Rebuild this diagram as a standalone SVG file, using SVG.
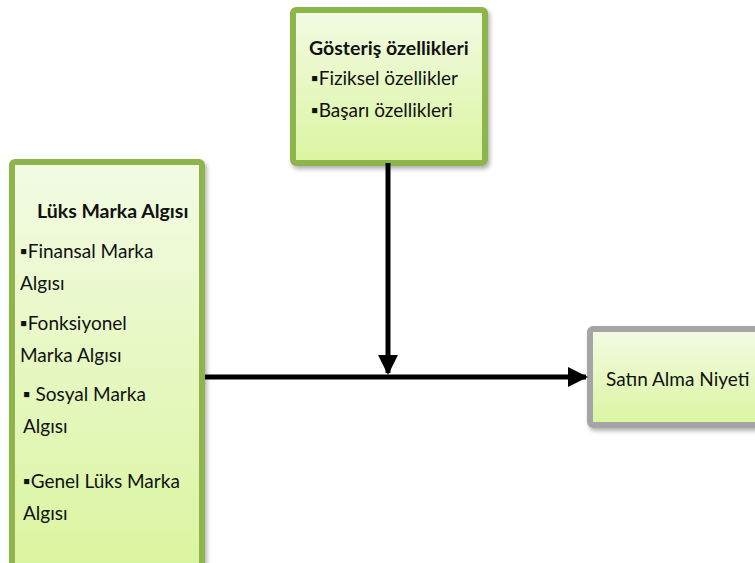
<svg xmlns="http://www.w3.org/2000/svg" width="755" height="563" viewBox="0 0 755 563">
<defs>
<linearGradient id="g" x1="0" y1="0" x2="0" y2="1">
<stop offset="0" stop-color="#f3fbe4"/>
<stop offset="1" stop-color="#daf5a0"/>
</linearGradient>
<filter id="sh" x="-10%" y="-10%" width="120%" height="120%">
<feDropShadow dx="2" dy="3" stdDeviation="2" flood-color="#000" flood-opacity="0.3"/>
</filter>
<marker id="ah" markerWidth="4" markerHeight="4" refX="3.6" refY="2" orient="auto" markerUnits="strokeWidth">
<path d="M0,0 L4,2 L0,4 Z" fill="#000"/>
</marker>
</defs>
<style>
.box{fill:url(#g);stroke-width:6;filter:url(#sh)}
.gr{stroke:#8db54c}
.gy{stroke:#a5a5a5}
text{font-family:Lato,"Open Sans",sans-serif;font-size:19px;fill:#111}
.b{font-weight:bold;font-size:19.5px}
.c{stroke:#000;stroke-width:5;fill:none;marker-end:url(#ah)}
</style>
<g id="gosteris">
<rect class="box gr" x="293" y="10" width="192" height="153" rx="3"/>
<text class="b" x="309" y="55">Gösteriş özellikleri</text>
<text x="311" y="85">▪Fiziksel özellikler</text>
<text x="311" y="117">▪Başarı özellikleri</text>
</g>
<g id="luks">
<rect class="box gr" x="12" y="162" width="190" height="405" rx="3"/>
<text class="b" x="37" y="218">Lüks Marka Algısı</text>
<text x="20" y="258">▪Finansal Marka</text>
<text x="20" y="290">Algısı</text>
<text x="20" y="330">▪Fonksiyonel</text>
<text x="20" y="362">Marka Algısı</text>
<text x="23" y="401">▪ Sosyal Marka</text>
<text x="23" y="433">Algısı</text>
<text x="23" y="488">▪Genel Lüks Marka</text>
<text x="23" y="520">Algısı</text>
</g>
<g id="satin">
<rect class="box gy" x="590" y="329" width="175" height="96" rx="3"/>
<text x="606" y="386">Satın Alma Niyeti</text>
</g>
<g id="connectors">
<line class="c" x1="205" y1="377" x2="586" y2="377"/>
<line class="c" x1="388" y1="163" x2="388" y2="373"/>
</g>
</svg>
